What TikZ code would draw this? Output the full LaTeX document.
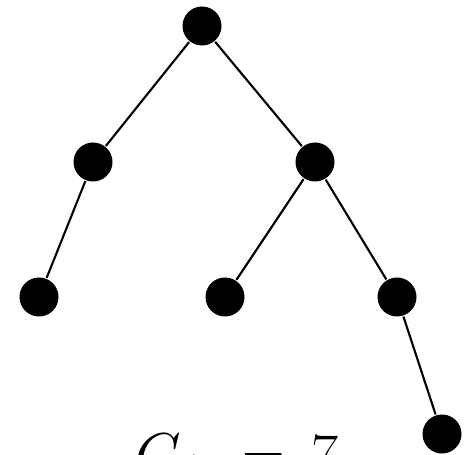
\documentclass[tikz,border=0pt]{standalone}
\usepackage{fix-cm}
\usepackage{amsmath}
\usepackage{tikz}
\usetikzlibrary{positioning}

\begin{document}
\begin{tikzpicture}[
    leaf/.style={circle, fill=black, inner sep=0pt, minimum size=0.975cm},
    line width=1.5pt,
  ]
  \useasboundingbox (0,0) rectangle (11.675,11.35);
  \node[leaf] (r)   at (5.05,10.7)   {};
  \node[leaf] (l)   at (2.325,7.3)   {};
  \node[leaf] (rr)  at (7.875,7.3)   {};
  \node[leaf] (ll)  at (0.975,3.925) {};
  \node[leaf] (rl)  at (5.625,3.925) {};
  \node[leaf] (rrr) at (9.925,3.925) {};
  \node[leaf] (rrb) at (11.05,0.5)   {};

  \draw (r) -- (l);
  \draw (r) -- (rr);
  \draw (l) -- (ll);
  \draw (rr) -- (rl);
  \draw (rr) -- (rrr);
  \draw (rrr) -- (rrb);

  \node[anchor=base west, inner sep=0pt, font=\fontsize{42}{50}\selectfont]
    (cnt) at (3.35,-0.5) {$G_4\;\, =\, 7$};
\end{tikzpicture}
\end{document}
